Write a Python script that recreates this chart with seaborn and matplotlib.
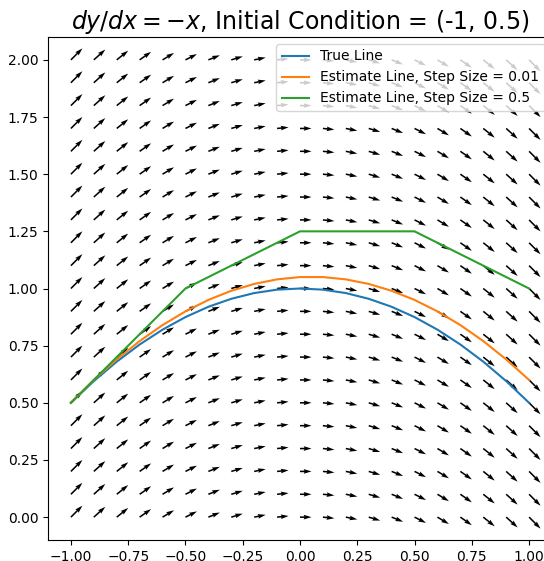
import numpy as np
import pandas as pd
import matplotlib
matplotlib.use("Agg")
import matplotlib.pyplot as plt
import seaborn as sns

# Slope field grid (dy/dx = -x)
grid_x = [-1.0, -0.9, -0.8, -0.7, -0.6, -0.5, -0.4, -0.3, -0.2, -0.1, 0.0,
          0.1, 0.2, 0.3, 0.4, 0.5, 0.6, 0.7, 0.8, 0.9, 1.0]
grid_y = [0.0, 0.1, 0.2, 0.3, 0.4, 0.5, 0.6, 0.7, 0.8, 0.9, 1.0,
          1.1, 1.2, 1.3, 1.4, 1.5, 1.6, 1.7, 1.8, 1.9, 2.0]
slopes = [1.0, 0.9, 0.8, 0.7, 0.6, 0.5, 0.4, 0.3, 0.2, 0.1, 0.0,
          -0.1, -0.2, -0.3, -0.4, -0.5, -0.6, -0.7, -0.8, -0.9, -1.0]

# True line
true_x = [-1.0, -0.9, -0.8, -0.7, -0.6, -0.5, -0.4, -0.3, -0.2, -0.1, 0.0,
          0.1, 0.2, 0.3, 0.4, 0.5, 0.6, 0.7, 0.8, 0.9, 1.0]
true_y = [0.5, 0.595, 0.68, 0.755, 0.82, 0.875, 0.92, 0.955, 0.98, 0.995, 1.0,
          0.995, 0.98, 0.955, 0.92, 0.875, 0.82, 0.755, 0.68, 0.595, 0.5]

# Fine estimate line
est1_x = [-1.0, -0.9, -0.8, -0.7, -0.6, -0.5, -0.4, -0.3, -0.2, -0.1, 0.0,
          0.1, 0.2, 0.3, 0.4, 0.5, 0.6, 0.7, 0.8, 0.9, 1.0]
est1_y = [0.5, 0.6, 0.69, 0.77, 0.84, 0.9, 0.95, 0.99, 1.02, 1.04, 1.05,
          1.05, 1.04, 1.02, 0.99, 0.95, 0.9, 0.84, 0.77, 0.69, 0.6]

# Coarse estimate line
est2_x = [-1.0, -0.5, 0.0, 0.5, 1.0]
est2_y = [0.5, 1.0, 1.25, 1.25, 1.0]

labels = ["True Line", "Estimate Line, Step Size = 0.01", "Estimate Line, Step Size = 0.5"]

fig = plt.figure(figsize=(5.44, 5.61), dpi=100)
ax = fig.add_axes([48 / 544, 21 / 561, 504 / 544, 503 / 561])

X, Y = np.meshgrid(np.array(grid_x), np.array(grid_y))
S = np.tile(np.array(slopes), (len(grid_y), 1))
U = np.ones_like(S)
ax.quiver(X, Y, U, S, color="black", pivot="tail", width=0.0031)

sns.lineplot(x=true_x, y=true_y, ax=ax, color="C0", label=labels[0], sort=False)
sns.lineplot(x=est1_x, y=est1_y, ax=ax, color="C1", label=labels[1], sort=False)
sns.lineplot(x=est2_x, y=est2_y, ax=ax, color="C2", label=labels[2], sort=False)

ax.set_xlim(-1.1, 1.1)
ax.set_ylim(-0.1, 2.1)
ax.set_xticks([-1.0, -0.75, -0.5, -0.25, 0.0, 0.25, 0.5, 0.75, 1.0])
ax.set_yticks([0.0, 0.25, 0.5, 0.75, 1.0, 1.25, 1.5, 1.75, 2.0])
ax.xaxis.set_major_formatter(matplotlib.ticker.FuncFormatter(lambda v, p: f"{v:.2f}".replace("-", "\u2212")))
ax.yaxis.set_major_formatter(matplotlib.ticker.FuncFormatter(lambda v, p: f"{v:.2f}".replace("-", "\u2212")))
ax.legend(loc="upper right")
ax.set_title("$dy/dx = -x$, Initial Condition = (-1, 0.5)", fontsize=17)

fig.savefig("out.png", dpi=100)
